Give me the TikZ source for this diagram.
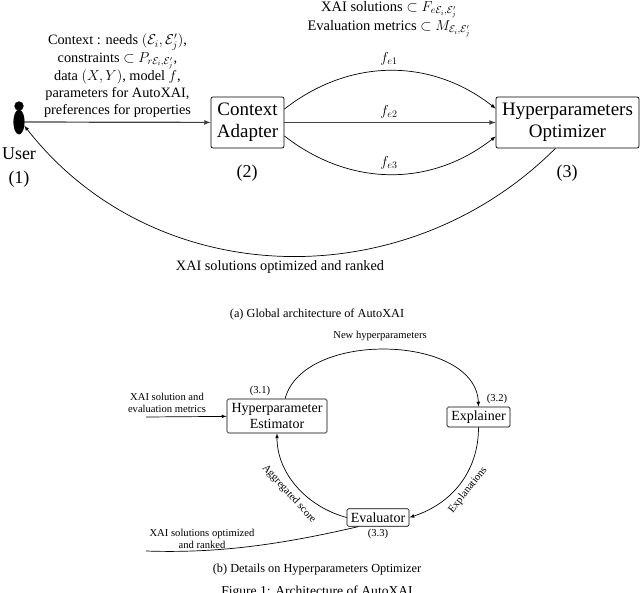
\documentclass[tikz,border=0pt]{standalone}
\usepackage{amssymb}
\usepackage{amsmath}
\usepackage{fontspec}
\setmainfont{Liberation Serif}
\usepackage{tikz}
\usetikzlibrary{shapes.geometric}

\begin{document}
\begin{tikzpicture}[x=1pt,y=-1pt,>=latex,line width=0.7pt]
        \tikzstyle{every node} = [inner sep=0pt]
        \tikzstyle{bigbox} = [draw, rectangle, rounded corners=2pt, align=center, font=\fontsize{19}{22}\selectfont]
        \tikzstyle{midbox} = [draw, rectangle, rounded corners=1.5pt, align=center, font=\fontsize{14}{16.5}\selectfont]
        \tikzstyle{toptext} = [align=center, font=\fontsize{14.3}{17.2}\selectfont]
        \tikzstyle{lowtext} = [align=center, font=\fontsize{10.6}{11.8}\selectfont]
        \tikzstyle{captext} = [font=\fontsize{12.3}{14}\selectfont]
        \tikzstyle{numtext} = [font=\fontsize{18}{21}\selectfont]
        \useasboundingbox (0,0) rectangle (640,593);

        % global architecture
        \node[draw, fill=black, circle, minimum size=8.5pt] (head) at (19,106) {};
        \node[draw, fill=black, ellipse, minimum width=10.5pt, minimum height=24pt] (user) at (19,122) {};
        \node[bigbox, minimum width=73pt, minimum height=51pt] (adapter) at (247.5,122.5) {Context\\Adapter};
        \node[bigbox, minimum width=143pt, minimum height=51pt] (optimizer) at (567.5,122.5) {Hyperparameters\\Optimizer};

        \node[numtext, align=center] (userlabel) at (19,168) {User\\[3pt](1)};
        \node[numtext] (num2) at (247,173) {(2)};
        \node[numtext] (num3) at (567,173) {(3)};

        \node[toptext] (context) at (117.5,76) {Context : needs $(\mathcal{E}_i,\mathcal{E}'_j)$,\\
            constraints $\subset P_{r\mathcal{E}_i,\mathcal{E}'_j}$,\\
            data $(X,Y)$, model $f$,\\
            parameters for AutoXAI,\\
            preferences for properties};
        \node[toptext, font=\fontsize{14.5}{19}\selectfont] (solutions) at (389,19) {XAI solutions $\subset F_{e\mathcal{E}_i,\mathcal{E}'_j}$\\
            Evaluation metrics $\subset M_{\mathcal{E}_i,\mathcal{E}'_j}$};
        \node[toptext] (fe1) at (389,59) {$f_{e1}$};
        \node[toptext] (fe2) at (389,112) {$f_{e2}$};
        \node[toptext] (fe3) at (389,163) {$f_{e3}$};
        \node[toptext] (ranked) at (280,267) {XAI solutions optimized and ranked};
        \node[captext] (capa) at (317,314) {(a) Global architecture of AutoXAI};

        \foreach \from/\to in {user/adapter, adapter/optimizer}
            \draw[->, line width=1.2pt, black!75] (\from) -- (\to);
        \draw[->] (adapter.20) to[out=38, in=142] (optimizer.169);
        \draw[->] (adapter.-20) to[out=-38, in=-142] (optimizer.-169);
        \draw[->] (optimizer.-115) to[out=-135, in=-52, looseness=1.02] (user.-35);

        % hyperparameters optimizer
        \node[midbox, minimum width=100pt, minimum height=34pt] (estimator) at (277,416) {Hyperparameter\\Estimator};
        \node[midbox, minimum width=63pt, minimum height=20pt] (explainer) at (478.5,417) {Explainer};
        \node[midbox, minimum width=62pt, minimum height=17.5pt] (evaluator) at (378,517.5) {Evaluator};
        \coordinate (inxai) at (146,417);
        \coordinate (outxai) at (146,551);

        \node[lowtext] (num31) at (260,391) {(3.1)};
        \node[lowtext] (num32) at (497,399) {(3.2)};
        \node[lowtext] (num33) at (378,533.5) {(3.3)};
        \node[lowtext] (newhyper) at (380,336) {New hyperparameters};
        \node[lowtext] (inlabel) at (167,403) {XAI solution and\\evaluation metrics};
        \node[lowtext] (outlabel) at (202,539) {XAI solutions optimized\\and ranked};
        \node[lowtext, rotate=-48] (aggregated) at (289,494) {Aggregated score};
        \node[lowtext, rotate=52] (explanations) at (468,490) {Explanations};
        \node[captext] (capb) at (317,569.5) {(b) Details on Hyperparameters Optimizer};
        \node[captext, font=\fontsize{13.6}{15}\selectfont] (fig) at (317,592) {Figure 1: Architecture of AutoXAI};

        \draw[->] (inxai) -- (estimator);
        \draw[->] (estimator.65) to[out=75, in=92, looseness=0.95] (explainer.north);
        \draw[->] (explainer.south) to[out=-90, in=18, looseness=1] (evaluator.east);
        \draw[->] (evaluator.west) to[out=165, in=-90, looseness=0.95] (estimator.south);
        \draw (evaluator.-155) to[out=-167, in=-2, looseness=0.9] (outxai);
      \end{tikzpicture}
\end{document}
